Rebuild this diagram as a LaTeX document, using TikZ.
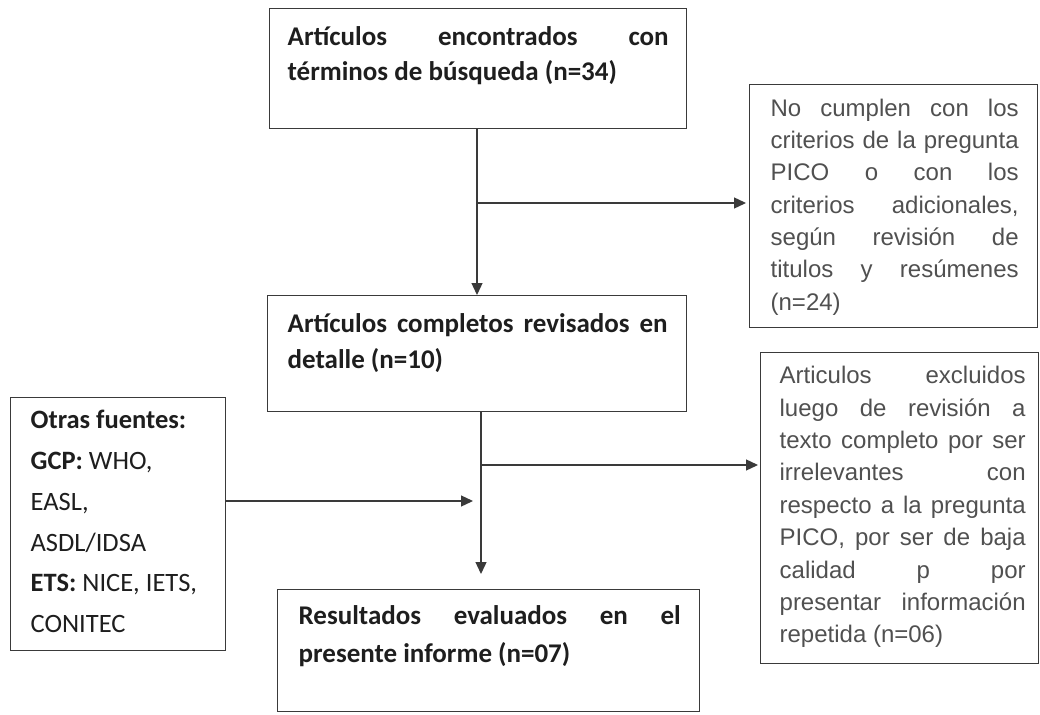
\documentclass[tikz,border=0pt]{standalone}
\usepackage{fontspec}
\newfontfamily\fcal{Carlito}
\newfontfamily\fari{Liberation Sans}
\usetikzlibrary{arrows.meta}
\definecolor{ink}{HTML}{1E1E1E}
\definecolor{greytxt}{HTML}{505050}
\definecolor{edge}{HTML}{3A3A3A}
\newcommand\jl[1]{\makebox[\hsize][s]{#1}}
\newcommand\bx[6]{\hspace*{#1}\parbox[c][#4][t]{#2}{\rule{0pt}{#5}#6}\hspace*{#3}}
\begin{document}
\begin{tikzpicture}[x=1pt,y=-1pt,
  box/.style={draw=edge, line width=1.3pt, inner sep=0pt, anchor=north west},
  conn/.style={draw=edge, line width=1.3pt, -{Triangle[length=12pt,width=11pt]}},
  ]
\useasboundingbox (0,0) rectangle (1040,714);

\node[box, text=ink, font=\fcal\bfseries\fontsize{27}{35}\selectfont] (b1) at (269,8)
  {\bx{18pt}{381pt}{18pt}{120pt}{37pt}{\jl{Artículos encontrados con}\\términos de búsqueda (n=34)}};

\node[box, text=greytxt, font=\fari\fontsize{24}{32.3}\selectfont] (b2) at (749,84)
  {\bx{21pt}{248pt}{19pt}{243pt}{31.7pt}{\jl{No cumplen con los}\\\jl{criterios de la pregunta}\\\jl{PICO o con los}\\\jl{criterios adicionales,}\\\jl{según revisión de}\\\jl{titulos y resúmenes}\\(n=24)}};

\node[box, text=ink, font=\fcal\bfseries\fontsize{27}{36}\selectfont] (b3) at (267,295)
  {\bx{20pt}{380pt}{19pt}{116pt}{37pt}{\jl{Artículos completos revisados en}\\detalle (n=10)}};

\node[box, text=ink, font=\fcal\fontsize{26.5}{40.8}\selectfont] (src) at (10,397)
  {\bx{20pt}{175pt}{20pt}{253pt}{31pt}{\textbf{Otras fuentes:}\\\textbf{GCP:} WHO,\\EASL,\\ASDL/IDSA\\\textbf{ETS:} NICE, IETS,\\CONITEC}};

\node[box, text=greytxt, font=\fari\fontsize{24}{32.4}\selectfont] (b5) at (760,352)
  {\bx{19pt}{246pt}{13pt}{311pt}{31pt}{\jl{Articulos excluidos}\\\jl{luego de revisión a}\\\jl{texto completo por ser}\\\jl{irrelevantes con}\\\jl{respecto a la pregunta}\\\jl{PICO, por ser de baja}\\\jl{calidad p por}\\\jl{presentar información}\\repetida (n=06)}};

\node[box, text=ink, font=\fcal\bfseries\fontsize{27}{38}\selectfont] (b4) at (277,589)
  {\bx{21pt}{382pt}{19pt}{122pt}{35pt}{\jl{Resultados evaluados en el}\\presente informe (n=07)}};

\coordinate (j1) at (477,203);
\coordinate (j2) at (481,465);
\coordinate (j3) at (473,501);
\coordinate (e4) at (481,574);

\draw[conn] (b1.south -| j1) -- (b3.north -| j1);
\draw[conn, shorten >=3pt] (j1) -- (j1 -| b2.west);
\draw[conn] (b3.south -| j2) -- (e4);
\draw[conn, shorten >=2pt] (j2) -- (j2 -| b5.west);
\draw[conn] (j3 -| src.east) -- (j3);
\end{tikzpicture}
\end{document}
